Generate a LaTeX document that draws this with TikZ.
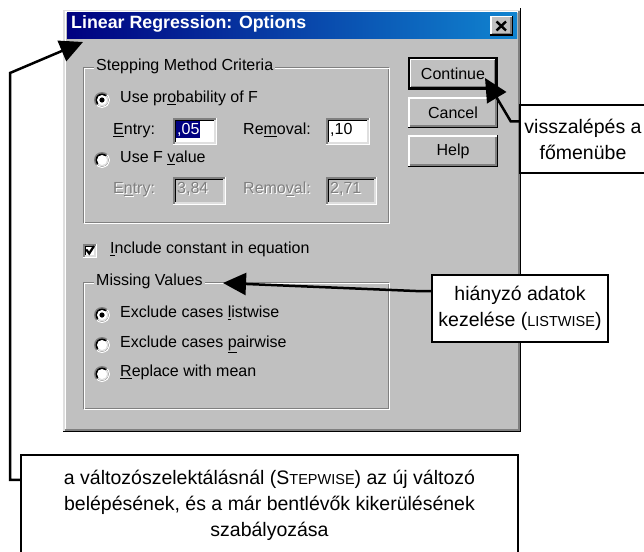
\documentclass[tikz,border=0pt]{standalone}
\usepackage{fontspec}
\setmainfont{Liberation Sans}
\usetikzlibrary{arrows.meta,calc}

\definecolor{wgray}{HTML}{C0C0C0}
\definecolor{wdark}{HTML}{808080}
\definecolor{wlight}{HTML}{DFDFDF}
\definecolor{wnavy}{HTML}{000080}
\definecolor{wblue}{HTML}{1084D0}

\newcommand\dlgfont{\fontsize{16}{19}\selectfont}
\newcommand\notefont{\fontsize{19.5}{26}\selectfont}
\newcommand\fakesc[1]{{\fontsize{14.5}{26}\selectfont #1}}

\tikzset{
  bevel/.style={line width=1.5pt},
  lbl/.style={anchor=mid west, inner sep=0pt, font=\dlgfont},
  btntext/.style={inner sep=0pt, font=\dlgfont},
  note/.style={draw=black, line width=2.5pt, fill=white, align=center,
    font=\notefont, inner sep=0pt},
  conn/.style={line width=2.5pt, -{Triangle[length=23pt,width=22pt]}},
}

% sunken edit field: x0 y0 x1 y1 fill
\newcommand\sunkenfield[5]{%
  \fill[#5] (#1,#2) rectangle (#3,#4);
  \draw[wdark,bevel] (#1+.75,#4-1.5) -- (#1+.75,#2+.75) -- (#3-1.5,#2+.75);
  \draw[black,bevel] (#1+2.25,#4-3) -- (#1+2.25,#2+2.25) -- (#3-3,#2+2.25);
  \draw[white,bevel] (#1,#4-.75) -- (#3-.75,#4-.75) -- (#3-.75,#2);
  \draw[wlight,bevel] (#1+1.5,#4-2.25) -- (#3-2.25,#4-2.25) -- (#3-2.25,#2+1.5);
}
% raised push button face: x0 y0 x1 y1
\newcommand\raisedbtn[4]{%
  \fill[wgray] (#1,#2) rectangle (#3,#4);
  \draw[white,bevel] (#1+.75,#4-1.5) -- (#1+.75,#2+.75) -- (#3-1.5,#2+.75);
  \draw[black,bevel] (#1,#4-.75) -- (#3-.75,#4-.75) -- (#3-.75,#2);
  \draw[wdark,bevel] (#1+1.5,#4-2.25) -- (#3-2.25,#4-2.25) -- (#3-2.25,#2+1.5);
}
% radio button: x y selected  (dark upper-left rim, light lower-right rim)
\newcommand\radiobtn[3]{%
  \fill[wdark] (#1,#2) circle[radius=8pt];
  \begin{scope}
    \clip (#1+12,#2-12) -- (#1+12,#2+12) -- (#1-12,#2+12) -- cycle;
    \fill[white] (#1,#2) circle[radius=8pt];
  \end{scope}
  \fill[black] (#1,#2) circle[radius=6.5pt];
  \begin{scope}
    \clip (#1+12,#2-12) -- (#1+12,#2+12) -- (#1-12,#2+12) -- cycle;
    \fill[wlight] (#1,#2) circle[radius=6.5pt];
  \end{scope}
  \fill[white] (#1,#2) circle[radius=5pt];
  \ifnum#3=1 \fill[black] (#1,#2) circle[radius=2.6pt];\fi
}
% etched group frame: x0 y0 x1 y1 name label
\newcommand\groupframe[6]{%
  \draw[wdark,line width=1.2pt] (#1+.6,#2+.6) rectangle (#3-1.8,#4-1.8);
  \draw[white,line width=1.2pt] (#1+1.8,#2+1.8) rectangle (#3-.6,#4-.6);
  \node[fill=wgray, inner xsep=2pt, inner ysep=1pt, anchor=mid west, font=\dlgfont]
    (#5) at (#1+11,#2+1) {#6};
}
% greyed-out text with white relief: name x y text
\newcommand\greytext[4]{%
  \node[lbl, text=white] at (#2+1,#3+1) {#4};
  \node[lbl, text=wdark] (#1) at (#2,#3) {#4};
}

\begin{document}
\begin{tikzpicture}[x=1pt,y=-1pt]
\useasboundingbox (0,0) rectangle (644,551);
\fill[white] (0,0) rectangle (644,551);

% ---- dialog window frame
\fill[wgray] (63,10) rectangle (521,432);
\draw[wlight,bevel] (63.75,431) -- (63.75,10.75) -- (520,10.75);
\draw[white,bevel] (65.25,429.5) -- (65.25,12.25) -- (518.5,12.25);
\draw[black,bevel] (63,431.25) -- (520.25,431.25) -- (520.25,8);
\draw[wdark,bevel] (64.5,429.75) -- (518.75,429.75) -- (518.75,11.5);

% ---- title bar
\shade[left color=wnavy, right color=wblue] (67,13) rectangle (517,39);
\node[anchor=mid west, inner sep=0pt, text=white,
  font=\bfseries\fontsize{17.8}{20}\selectfont] (title) at (71,26)
  {Linear Regression: Options};
\raisedbtn{490}{16}{513}{36}
\draw[black,line width=2.4pt] (496.5,21.5) -- (506,30.5) (506,21.5) -- (496.5,30.5);
\node[inner sep=0pt, minimum width=23pt, minimum height=20pt] (closebtn) at (501.5,26) {};

% ---- Stepping Method Criteria
\groupframe{83}{67}{390}{224}{stepgrp}{Stepping Method Criteria}
\radiobtn{102}{100}{1}
\node[lbl] (useprob) at (120,100) {Use pr\underline{o}bability of F};
\node[lbl] (entrylbl) at (113,132) {\underline{E}ntry:};
\sunkenfield{173}{118}{217}{145}{white}
\node[anchor=mid west, fill=wnavy, text=white, inner xsep=1pt, inner ysep=2pt,
  font=\dlgfont] (entryval) at (176,131.5) {,05};
\node[lbl] (remlbl) at (243,132) {Re\underline{m}oval:};
\sunkenfield{326}{118}{370}{145}{white}
\node[lbl] (remval) at (330,131.5) {,10};

\radiobtn{102}{160}{0}
\node[lbl] (usef) at (120,160) {Use F \underline{v}alue};
\greytext{fentrylbl}{113}{191}{E\underline{n}try:}
\sunkenfield{173}{177}{226}{205}{wgray}
\greytext{fentryval}{177}{191}{3,84}
\greytext{fremlbl}{243}{191}{Remo\underline{v}al:}
\sunkenfield{326}{177}{377}{205}{wgray}
\greytext{fremval}{330}{191}{2,71}

% ---- constant checkbox
\sunkenfield{83}{244}{97}{258}{white}
\draw[black,line width=2.2pt] (86.2,249.5) -- (89.2,253.5) -- (94,246);
\node[lbl] (inclconst) at (110,251) {\underline{I}nclude constant in equation};

% ---- Missing Values
\groupframe{83}{282}{390}{410}{missgrp}{Missing Values}
\radiobtn{102}{315}{1}
\node[lbl] (listw) at (120,315) {Exclude cases \underline{l}istwise};
\radiobtn{102}{345}{0}
\node[lbl] (pairw) at (120,345) {Exclude cases \underline{p}airwise};
\radiobtn{102}{374}{0}
\node[lbl] (repmean) at (120,374) {\underline{R}eplace with mean};

% ---- push buttons
\fill[black] (408,57) rectangle (498,90);
\raisedbtn{409.5}{58.5}{496.5}{88.5}
\node[btntext] (btncont) at (453,73.5) {Continue};
\raisedbtn{408}{97}{498}{128}
\node[btntext] (btncancel) at (453,112.5) {Cancel};
\raisedbtn{408}{135}{498}{167}
\node[btntext] (btnhelp) at (453,151) {Help};

% ---- explanatory notes
\node[note, minimum width=126pt, minimum height=68pt] (notecont) at (583,139)
  {visszalépés a\\főmenübe};
\node[note, minimum width=176pt, minimum height=67pt] (notemiss) at (520,308.5)
  {hiányzó adatok\\kezelése (\fakesc{LISTWISE})};
\node[note, minimum width=497pt, minimum height=100pt] (notestep) at (269.5,505)
  {a változószelektálásnál (S\fakesc{TEPWISE}) az új változó\\
   belépésének, és a már bentlévők kikerülésének\\
   szabályozása};

% ---- pointers
\coordinate (conttip) at (485,78);
\coordinate (misstip) at (223,283);
\coordinate (steptip) at (83,42);
\coordinate (stepbend) at (10,73);
\draw[conn] ($(notecont.north west)!0.25!(notecont.south west)$) -- ++(-8,0) -- (conttip);
\draw[conn] ($(notemiss.north west)!0.25!(notemiss.south west)$) -- ++(-12,0) -- (misstip);
\draw[conn] ($(notestep.north west)+(0,26)$) -| (stepbend) -- (steptip);
\end{tikzpicture}
\end{document}
